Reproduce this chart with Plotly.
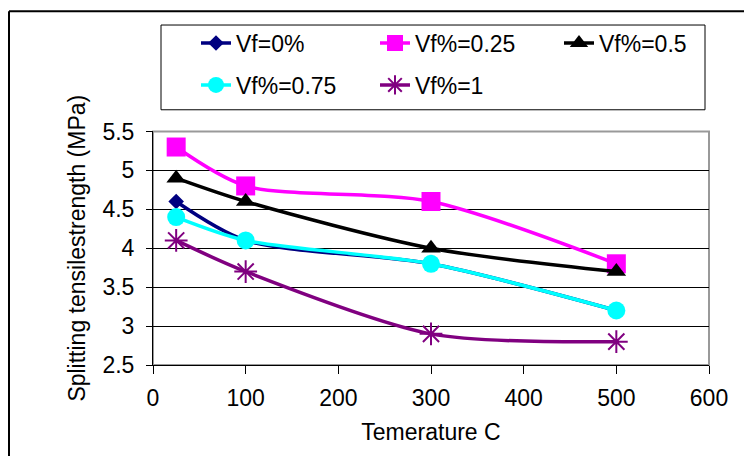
import plotly.graph_objects as go

temps = [25, 100, 300, 500]
series_names = ["Vf=0%", "Vf%=0.25", "Vf%=0.5", "Vf%=0.75", "Vf%=1"]
vf0 = [4.6, 4.1, 3.8, 3.2]
vf025 = [5.3, 4.8, 4.6, 3.8]
vf05 = [4.9, 4.6, 4.0, 3.7]
vf075 = [4.4, 4.1, 3.8, 3.2]
vf1 = [4.1, 3.7, 2.9, 2.8]
x_ticks = [0, 100, 200, 300, 400, 500, 600]
y_ticks = [2.5, 3, 3.5, 4, 4.5, 5, 5.5]

FONT = "Liberation Sans, Arial, sans-serif"
FS = 23
W, H = 744, 456
L, R, T, B = 153, 35, 128, 91
PW, PH = W - L - R, H - T - B

def px_x(p):
    return (p - L) / PW

def px_y(p):
    return (H - B - p) / PH

styles = [
    dict(color="#000080", symbol="diamond", size=12),
    dict(color="#FF00FF", symbol="square", size=19),
    dict(color="#000000", symbol="triangle-up", size=17),
    dict(color="#00FFFF", symbol="circle", size=18),
    dict(color="#800080", symbol="asterisk-open", size=19),
]
values = [vf0, vf025, vf05, vf075, vf1]
# legend entry placement (text start x, row centre y) in pixels
legend_pos = [(235, 43), (414, 43), (598, 43), (235, 85), (414, 85)]

fig = go.Figure()
legend_layouts = {}
for i, (name, vals, st) in enumerate(zip(series_names, values, styles)):
    lname = "legend" if i == 0 else f"legend{i + 1}"
    marker = dict(symbol=st["symbol"], size=st["size"], color=st["color"],
                  line=dict(color=st["color"], width=2 if "asterisk" in st["symbol"] else 0))
    fig.add_trace(go.Scatter(
        x=temps, y=vals, name=name, mode="lines+markers",
        line=dict(color=st["color"], width=3.5, shape="spline", smoothing=0.8),
        marker=marker, legend=lname, cliponaxis=False,
    ))
    tx, ty = legend_pos[i]
    legend_layouts[lname] = dict(
        orientation="h", xref="container", yref="container",
        xanchor="left", yanchor="middle",
        x=(tx - 39) / W, y=1 - ty / H,
        font=dict(family=FONT, size=FS, color="black"),
        bgcolor="rgba(0,0,0,0)", borderwidth=0, itemwidth=30,
    )

fig.update_layout(
    width=W, height=H,
    margin=dict(l=L, r=R, t=T, b=B),
    paper_bgcolor="white", plot_bgcolor="white",
    font=dict(family=FONT, size=FS, color="black"),
    showlegend=True,
    xaxis=dict(
        range=[0, 600], tickvals=x_ticks, ticktext=[str(v) for v in x_ticks],
        showgrid=False, zeroline=False,
        showline=True, linecolor="black", linewidth=1,
        ticks="outside", ticklen=8, tickcolor="black", tickwidth=1,
        ticklabelstandoff=4,
        tickfont=dict(family=FONT, size=FS, color="black"),
        title=dict(text="Temerature C", font=dict(family=FONT, size=FS, color="black"), standoff=14),
    ),
    yaxis=dict(
        range=[2.5, 5.5], tickvals=y_ticks, ticktext=[f"{v:g}" for v in y_ticks],
        showgrid=True, gridcolor="black", gridwidth=1, zeroline=False,
        showline=True, linecolor="black", linewidth=1,
        ticks="outside", ticklen=6, tickcolor="black", tickwidth=1,
        ticklabelstandoff=7,
        tickfont=dict(family=FONT, size=FS, color="black"),
        title=dict(text="Splitting tensilestrength (MPa)", font=dict(family=FONT, size=FS, color="black"), standoff=10),
    ),
    shapes=[
        dict(type="rect", xref="paper", yref="paper", x0=0, x1=1, y0=0, y1=1,
             line=dict(color="#999999", width=2), layer="between"),
        dict(type="rect", xref="paper", yref="paper",
             x0=px_x(161), x1=px_x(705), y0=px_y(106), y1=px_y(20),
             line=dict(color="black", width=1), fillcolor="rgba(0,0,0,0)"),
        dict(type="line", xref="paper", yref="paper",
             x0=px_x(9), x1=px_x(W + 5), y0=px_y(6), y1=px_y(6),
             line=dict(color="black", width=2)),
        dict(type="line", xref="paper", yref="paper",
             x0=px_x(9), x1=px_x(9), y0=px_y(6), y1=px_y(H + 5),
             line=dict(color="black", width=2)),
    ],
    **legend_layouts,
)

fig.write_html("out.html")
